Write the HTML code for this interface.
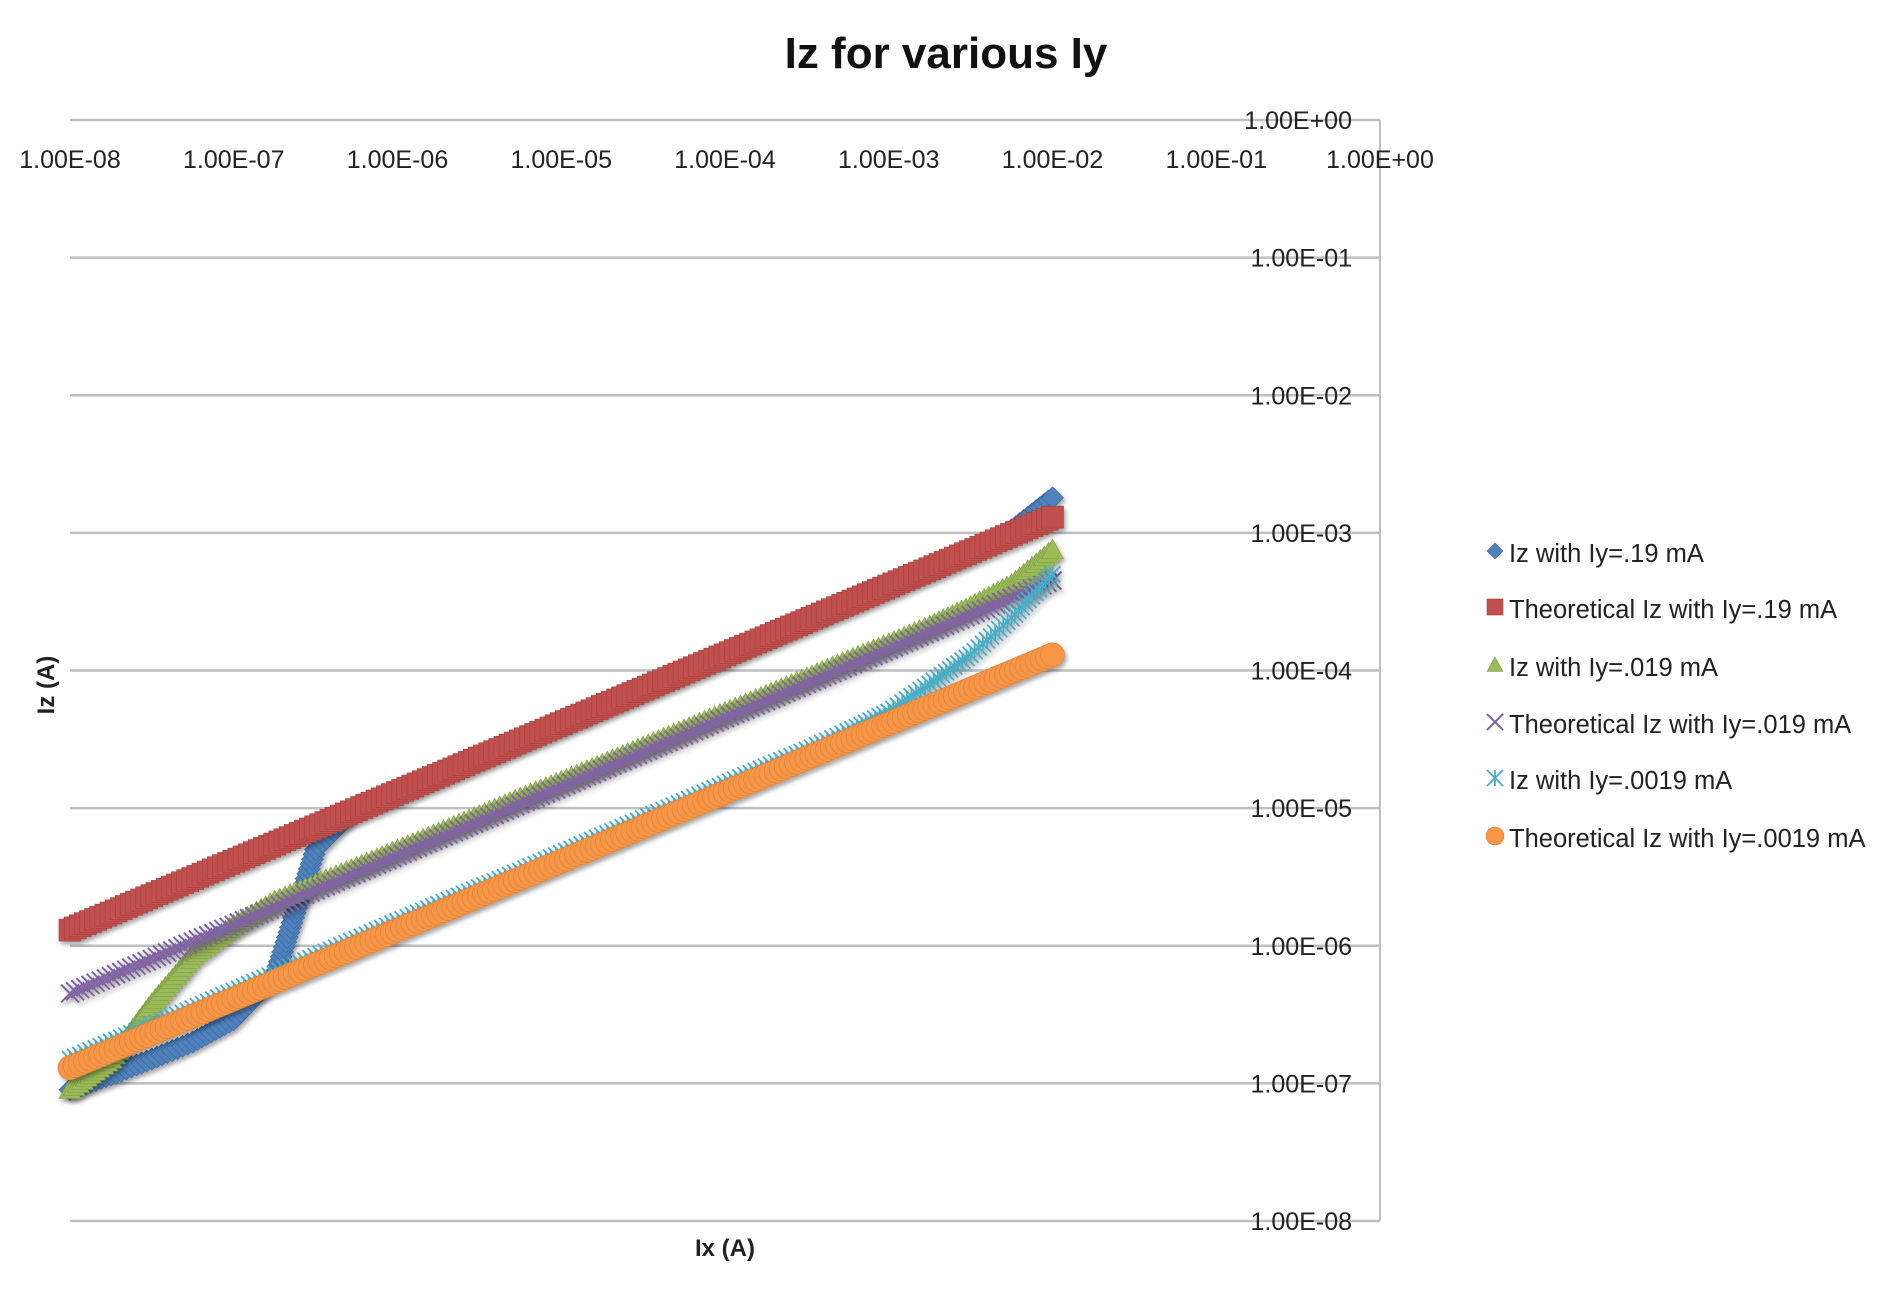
<!DOCTYPE html>
<html><head><meta charset="utf-8"><style>
html,body{margin:0;padding:0;background:#fff;}
svg{display:block;font-family:"Liberation Sans",sans-serif;}
</style></head><body>
<svg id="chart" width="1902" height="1300" viewBox="0 0 1902 1300">
<defs>
<filter id="sh" x="-10%" y="-10%" width="120%" height="120%"><feDropShadow dx="2" dy="3" stdDeviation="2" flood-color="#000" flood-opacity="0.35"/></filter>
</defs>
<rect width="1902" height="1300" fill="#fff"/>
<text x="946" y="68" text-anchor="middle" font-size="44" font-weight="bold" fill="#111">Iz for various Iy</text>
<g id="grid"></g>
<g id="xlabels"></g>
<g id="series"></g>
<g id="ylabels"></g>
<text x="725" y="1256" text-anchor="middle" font-size="24" font-weight="bold" fill="#222">Ix (A)</text>
<text x="0" y="0" transform="translate(54,685) rotate(-90)" text-anchor="middle" font-size="24" font-weight="bold" fill="#222">Iz (A)</text>
<g id="legend"></g>
</svg>
<script>
const xTicks = ["1.00E-08","1.00E-07","1.00E-06","1.00E-05","1.00E-04","1.00E-03","1.00E-02","1.00E-01","1.00E+00"];
const yTicks = ["1.00E+00","1.00E-01","1.00E-02","1.00E-03","1.00E-04","1.00E-05","1.00E-06","1.00E-07","1.00E-08"];
const ixValues = [1e-8,1.78e-8,3.16e-8,5.62e-8,1e-7,1.78e-7,3.16e-7,5.62e-7,1e-6,1.78e-6,3.16e-6,5.62e-6,1e-5,1.78e-5,3.16e-5,5.62e-5,1e-4,1.78e-4,3.16e-4,5.62e-4,1e-3,1.78e-3,3.16e-3,5.62e-3,1e-2];
const izIy19 = [9e-8,1.15e-7,1.5e-7,2.0e-7,2.9e-7,6.0e-7,5e-6,1.0e-5,1.32e-5,1.75e-5,2.33e-5,3.1e-5,4.15e-5,5.5e-5,7.4e-5,9.9e-5,1.32e-4,1.76e-4,2.35e-4,3.15e-4,4.2e-4,5.6e-4,7.5e-4,1.05e-3,1.8e-3];
const theoIy19 = [1.3e-6,1.73e-6,2.31e-6,3.08e-6,4.11e-6,5.48e-6,7.31e-6,9.75e-6,1.3e-5,1.73e-5,2.31e-5,3.08e-5,4.11e-5,5.48e-5,7.31e-5,9.75e-5,1.3e-4,1.73e-4,2.31e-4,3.08e-4,4.11e-4,5.48e-4,7.31e-4,9.75e-4,1.3e-3];
const izIy019 = [9e-8,1.5e-7,3.8e-7,8.5e-7,1.4e-6,2.1e-6,2.8e-6,3.7e-6,4.95e-6,6.6e-6,8.8e-6,1.18e-5,1.56e-5,2.08e-5,2.78e-5,3.7e-5,4.95e-5,6.6e-5,8.8e-5,1.18e-4,1.56e-4,2.1e-4,2.9e-4,4.2e-4,7.5e-4];
const theoIy019 = [4.5e-7,6.0e-7,8.0e-7,1.07e-6,1.42e-6,1.9e-6,2.53e-6,3.37e-6,4.5e-6,6.0e-6,8.0e-6,1.07e-5,1.42e-5,1.9e-5,2.53e-5,3.37e-5,4.5e-5,6.0e-5,8.0e-5,1.07e-4,1.42e-4,1.9e-4,2.53e-4,3.37e-4,4.5e-4];
const izIy0019 = [1.5e-7,2.0e-7,2.65e-7,3.5e-7,4.7e-7,6.3e-7,8.4e-7,1.12e-6,1.5e-6,2.0e-6,2.65e-6,3.5e-6,4.7e-6,6.3e-6,8.4e-6,1.12e-5,1.5e-5,2.0e-5,2.65e-5,3.6e-5,5.0e-5,8e-5,1.3e-4,2.4e-4,5e-4];
const theoIy0019 = [1.3e-7,1.73e-7,2.31e-7,3.08e-7,4.11e-7,5.48e-7,7.31e-7,9.75e-7,1.3e-6,1.73e-6,2.31e-6,3.08e-6,4.11e-6,5.48e-6,7.31e-6,9.75e-6,1.3e-5,1.73e-5,2.31e-5,3.08e-5,4.11e-5,5.48e-5,7.31e-5,9.75e-5,1.3e-4];
const seriesNames = ["Iz with Iy=.19 mA","Theoretical Iz with Iy=.19 mA","Iz with Iy=.019 mA","Theoretical Iz with Iy=.019 mA","Iz with Iy=.0019 mA","Theoretical Iz with Iy=.0019 mA"];

const NS="http://www.w3.org/2000/svg";
const X0=70,X1=1380,Y0=120,Y1=1221;
function xScale(v){return X0+(Math.log10(v)+8)/8*(X1-X0);}
function yScale(v){return Y0+(0-Math.log10(v))/8*(Y1-Y0);}
function mk(tag,attrs,parent){const e=document.createElementNS(NS,tag);for(const k in attrs)e.setAttribute(k,attrs[k]);parent.appendChild(e);return e;}

const grid=document.getElementById('grid');
for(let i=0;i<=8;i++){
  const y=Y0+i*(Y1-Y0)/8;
  const l=mk('line',{x1:X0,x2:X1,y1:y,y2:y,stroke:'#bfbfbf','stroke-width':2.5},grid);
  
  
}
const ax=mk('line',{x1:X1,x2:X1,y1:Y0,y2:Y1,stroke:'#bfbfbf','stroke-width':2},grid);



const xl=document.getElementById('xlabels');
xTicks.forEach((t,i)=>{
  const tx=mk('text',{x:X0+i*(X1-X0)/8,y:168,'text-anchor':'middle','font-size':25,fill:'#222'},xl);
  tx.textContent=t;
  
  
});
const yl=document.getElementById('ylabels');
yTicks.forEach((t,i)=>{
  const tx=mk('text',{x:1352,y:Y0+i*(Y1-Y0)/8+9,'text-anchor':'end','font-size':25,fill:'#222'},yl);
  tx.textContent=t;
  
  
});

function marker(type,color,x,y,s,parent){
  let e;
  if(type==='diamond'){e=mk('polygon',{points:`${x},${y-s} ${x+s},${y} ${x},${y+s} ${x-s},${y}`,fill:color,stroke:'#3a6598','stroke-width':0.6},parent);}
  else if(type==='square'){e=mk('rect',{x:x-s,y:y-s,width:2*s,height:2*s,fill:color,stroke:'#a43f3c','stroke-width':0.6},parent);}
  else if(type==='triangle'){e=mk('polygon',{points:`${x},${y-s} ${x+s},${y+s*0.8} ${x-s},${y+s*0.8}`,fill:color,stroke:'#7f9c45','stroke-width':0.6},parent);}
  else if(type==='x'){e=mk('path',{d:`M${x-s},${y-s}L${x+s},${y+s}M${x-s},${y+s}L${x+s},${y-s}`,stroke:color,'stroke-width':2,fill:'none'},parent);}
  else if(type==='star'){e=mk('path',{d:`M${x-s},${y-s}L${x+s},${y+s}M${x-s},${y+s}L${x+s},${y-s}M${x},${y-s}L${x},${y+s}`,stroke:color,'stroke-width':1.8,fill:'none'},parent);}
  else {e=mk('circle',{cx:x,cy:y,r:s,fill:color,stroke:'#d9803a','stroke-width':0.6},parent);}
  return e;
}

const seriesData=[izIy19,theoIy19,izIy019,theoIy019,izIy0019,theoIy0019];
const styles=[['diamond','#4f81bd',11],['square','#c0504d',11],['triangle','#9bbb59',11],['x','#8064a2',9],['star','#4bacc6',8],['circle','#f79646',12]];
const sg=document.getElementById('series');
seriesData.forEach((vals,si)=>{
  const g=mk('g',{filter:'url(#sh)'},sg);
  
  
  const [type,color,s]=styles[si];
  const pts=ixValues.map((x,i)=>[xScale(x),yScale(vals[i])]);
  for(let i=0;i<pts.length;i++){
    const [xa,ya]=pts[i];
    const m=marker(type,color,xa,ya,s,g);
    
    
    if(i<pts.length-1){
      const [xb,yb]=pts[i+1];
      const d=Math.hypot(xb-xa,yb-ya);const n=Math.max(1,Math.floor(d/5));
      for(let k=1;k<n;k++){const t=k/n;marker(type,color,xa+(xb-xa)*t,ya+(yb-ya)*t,s,g);}
    }
  }
});

const lg=document.getElementById('legend');
const ly=[553,609,667,724,780,838];
seriesNames.forEach((n,i)=>{
  const g=mk('g',{},lg);
  
  
  const [type,color]=styles[i];
  marker(type,color,1495,ly[i]-2,type==='circle'?9:8,g);
  const t=mk('text',{x:1509,y:ly[i]+9,'font-size':25.5,fill:'#222'},g);
  t.textContent=n;
});
</script>
</body></html>
